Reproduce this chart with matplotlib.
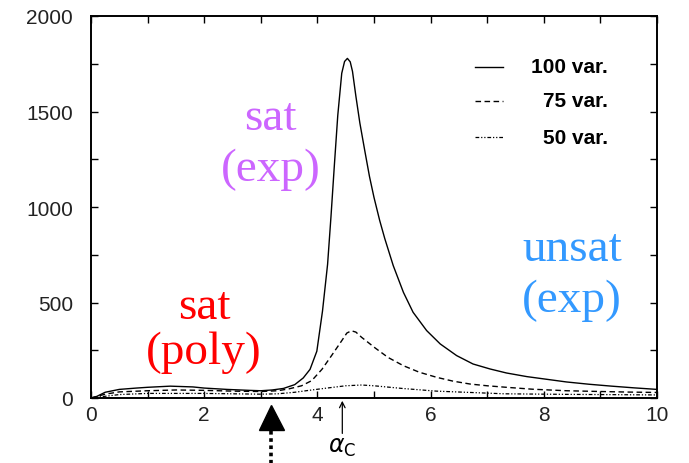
import numpy as np
import matplotlib
matplotlib.use("Agg")
import matplotlib.pyplot as plt
from matplotlib.ticker import MultipleLocator

## Data
x100 = [0, 0.1, 0.25, 0.5, 0.8, 1.0, 1.4, 1.8, 2.0, 2.4, 2.8, 3.0, 3.2, 3.4, 3.6, 3.75, 3.87,
        3.99, 4.09, 4.18, 4.24, 4.30, 4.36, 4.43, 4.48, 4.53, 4.58, 4.62, 4.68, 4.75, 4.84,
        4.92, 5.0, 5.1, 5.19, 5.34, 5.52, 5.69, 5.93, 6.17, 6.46, 6.75, 7.05, 7.34, 7.7, 8.0,
        8.4, 8.8, 9.2, 9.6, 10]
y100 = [0, 8, 30, 45, 52, 56, 62, 58, 52, 45, 40, 38, 42, 50, 70, 105, 150,
        245, 455, 700, 950, 1220, 1480, 1700, 1762, 1778, 1760, 1710, 1580, 1440, 1290,
        1160, 1050, 930, 835, 693, 553, 449, 353, 283, 222, 178, 152, 131, 112, 100,
        84, 72, 62, 53, 45]

x75 = [0, 0.25, 0.5, 1.0, 1.5, 2.0, 2.5, 3.0, 3.3, 3.5, 3.72, 3.9, 4.08, 4.25, 4.43, 4.52,
       4.6, 4.68, 4.78, 5.02, 5.25, 5.52, 5.8, 6.11, 6.4, 6.7, 7.0, 7.34, 7.8, 8.4, 9.0,
       9.5, 10]
y75 = [0, 20, 32, 38, 42, 40, 36, 34, 38, 48, 64, 91, 150, 222, 300, 340,
       352, 345, 318, 262, 212, 169, 135, 108, 88, 73, 64, 56, 46, 38, 34,
       31, 29]

x50 = [0, 0.5, 1.0, 2.0, 3.0, 3.3, 3.6, 3.9, 4.25, 4.5, 4.78, 5.0, 5.5, 6.1, 7.3, 8.4, 9.0, 10]
y50 = [0, 18, 24, 24, 20, 22, 30, 42, 55, 64, 68, 64, 50, 36, 22, 19, 18, 16]

labels = ["100 var.", "75 var.", "50 var."]
alpha_c = 4.44
marker_x = 3.18

styles = [dict(lw=1.0), dict(lw=1.0, dashes=(4, 2.5)),
          dict(lw=0.9, dashes=(3, 1.5, 1, 1.5, 1, 1.5))]

## Figure
fig = plt.figure(figsize=(6.89, 4.64), dpi=100)
ax = fig.add_axes([91/689, 65/464, 566/689, 382/464])

for xs, ys, st in zip([x100, x75, x50], [y100, y75, y50], styles):
    ax.plot(xs, ys, color="black", **st)

ax.set_xlim(0, 10)
ax.set_ylim(0, 2000)
ax.xaxis.set_major_locator(MultipleLocator(2))
ax.xaxis.set_minor_locator(MultipleLocator(1))
ax.yaxis.set_major_locator(MultipleLocator(500))
ax.yaxis.set_minor_locator(MultipleLocator(250))
ax.tick_params(which="both", direction="in", top=True, right=True, width=1.0, length=5)
ax.tick_params(axis="x", pad=5)
ax.tick_params(axis="y", pad=13)
for lab in ax.get_xticklabels() + ax.get_yticklabels():
    lab.set_fontfamily("Liberation Sans")
    lab.set_fontsize(15)
    lab.set_color("#222222")
for s in ax.spines.values():
    s.set_linewidth(1.4)

# key, text right aligned like the original
key_y = [0.8665, 0.7775, 0.6832]
for lab, st, yk in zip(labels, styles, key_y):
    ax.plot([0.678, 0.728], [yk, yk], color="black", transform=ax.transAxes, **st)
    ax.text(0.913, yk, lab, transform=ax.transAxes, ha="right", va="center",
            family="Liberation Sans", weight="bold", fontsize=15)

# region labels
serif = "Liberation Serif"
ax.text(2.0, 360, "sat\n(poly)", color="#ff0000", fontsize=34, family=serif,
        ha="center", va="center", linespacing=1.08)
ax.text(3.17, 1335, "sat\n(exp)", color="#cc66ff", fontsize=34, family=serif,
        ha="center", va="center", linespacing=1.25)
ax.text(8.5, 648, "unsat\n(exp)", color="#3399ff", fontsize=34, family=serif,
        ha="center", va="center", linespacing=1.25)

# alpha_c arrow and the marker below the axis
ax.annotate("", xy=(alpha_c, 0), xytext=(alpha_c, -200), annotation_clip=False,
            arrowprops=dict(arrowstyle="->", lw=0.9, color="black"))
ax.text(alpha_c, -250, r"$\alpha_{\mathrm{C}}$", fontsize=17, ha="center", va="center")
ax.plot([marker_x], [-100], marker="^", markersize=18, color="black", clip_on=False)
ax.plot([marker_x, marker_x], [-175, -360], color="black", lw=2.6,
        linestyle=(0, (1, 1)), clip_on=False)

fig.savefig("out.png", dpi=100)
